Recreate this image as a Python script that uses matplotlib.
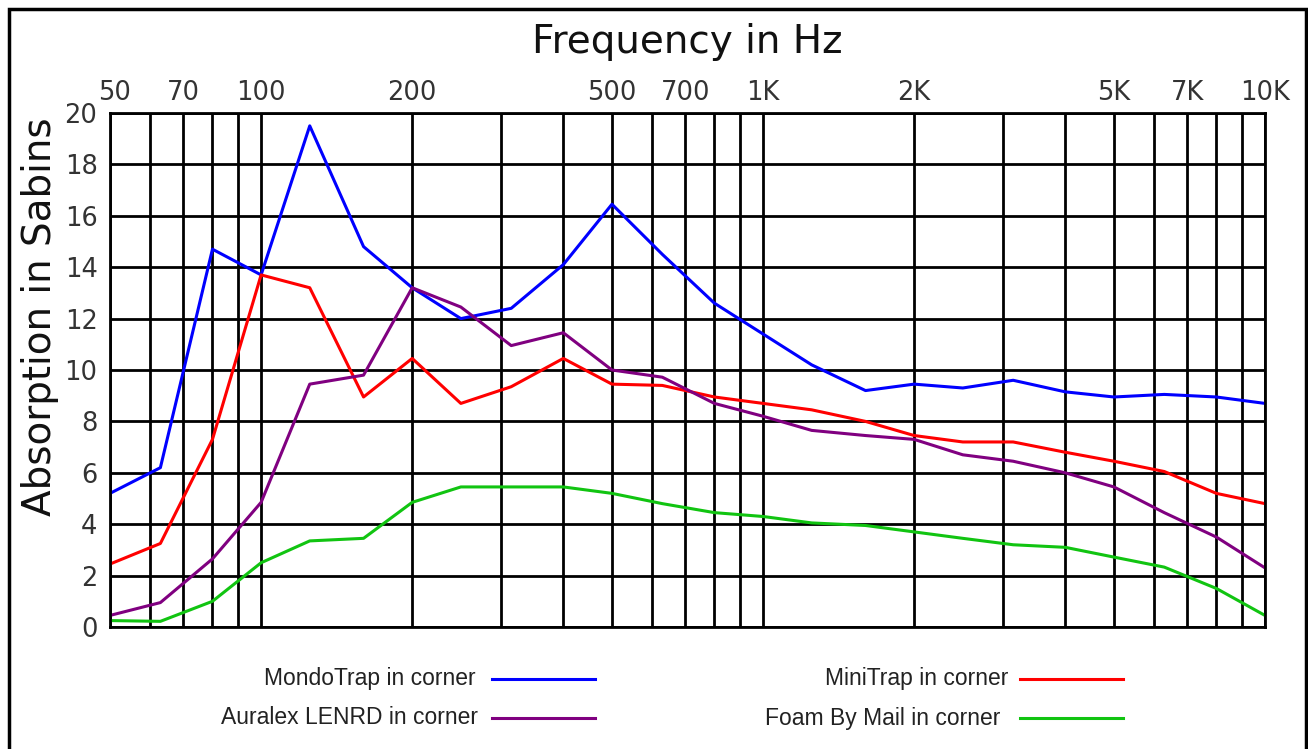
import matplotlib
matplotlib.use("Agg")
import matplotlib.pyplot as plt
from matplotlib.lines import Line2D
from matplotlib.ticker import FixedLocator, NullFormatter
from matplotlib.transforms import ScaledTranslation

# 1/3 octave band centres
freqs = [50, 63, 80, 100, 125, 160, 200, 250, 315, 400, 500, 630,
         800, 1000, 1250, 1600, 2000, 2500, 3150, 4000, 5000, 6300, 8000, 10000]

mondotrap = [5.2, 6.2, 14.7, 13.7, 19.5, 14.8, 13.2, 12.0, 12.4, 14.1, 16.45, 14.5,
             12.6, 11.4, 10.2, 9.2, 9.45, 9.3, 9.6, 9.15, 8.95, 9.05, 8.95, 8.7]
minitrap = [2.45, 3.25, 7.3, 13.7, 13.2, 8.95, 10.45, 8.7, 9.35, 10.45, 9.45, 9.4,
            8.95, 8.7, 8.45, 8.0, 7.45, 7.2, 7.2, 6.8, 6.45, 6.05, 5.2, 4.8]
auralex = [0.45, 0.95, 2.65, 4.85, 9.45, 9.8, 13.2, 12.45, 10.95, 11.45, 10.0, 9.72,
           8.7, 8.2, 7.65, 7.45, 7.3, 6.7, 6.45, 6.0, 5.45, 4.45, 3.5, 2.3]
foam = [0.25, 0.22, 1.0, 2.5, 3.35, 3.45, 4.85, 5.45, 5.45, 5.45, 5.2, 4.8,
        4.45, 4.3, 4.05, 3.95, 3.7, 3.45, 3.2, 3.1, 2.72, 2.33, 1.5, 0.45]

tick_freqs = [50, 70, 100, 200, 500, 700, 1000, 2000, 5000, 7000, 10000]
tick_labels = ["50", "70", "100", "200", "500", "700", "1K", "2K", "5K", "7K", "10K"]
grid_freqs = [m * d for d in (10, 100, 1000) for m in range(1, 10)] + [10000]
y_ticks = list(range(0, 21, 2))

W, H = 1308, 749
fig = plt.figure(figsize=(W / 100, H / 100), dpi=100)
ax = fig.add_axes([110 / W, 1 - 627 / H, (1265 - 110) / W, (627 - 113) / H])

ax.set_xscale("log")
ax.set_xlim(50, 10000)
ax.set_ylim(0, 20)

ax.xaxis.set_major_locator(FixedLocator(tick_freqs))
ax.xaxis.set_minor_locator(FixedLocator([f for f in grid_freqs if 50 <= f <= 10000]))
ax.xaxis.set_minor_formatter(NullFormatter())
ax.set_xticklabels(tick_labels)
ax.set_yticks(y_ticks)

ax.xaxis.tick_top()
ax.tick_params(axis="x", which="both", length=0, pad=5, labelsize=18.5, labelcolor="#333333")
ax.tick_params(axis="y", length=0, pad=9, labelsize=18.5, labelcolor="#333333")

# the "50" label is nudged right of the axis edge
lab50 = ax.get_xticklabels()[0]
lab50.set_transform(lab50.get_transform() + ScaledTranslation(5 / 100, 0, fig.dpi_scale_trans))

ax.grid(True, which="both", axis="x", color="black", linewidth=2.0)
ax.grid(True, which="major", axis="y", color="black", linewidth=2.0)
ax.set_axisbelow(True)
for s in ax.spines.values():
    s.set_color("black")
    s.set_linewidth(2.0)

lw = 2.2
ax.plot(freqs, mondotrap, color="#0000ff", lw=lw)
ax.plot(freqs, minitrap, color="#ff0000", lw=lw)
ax.plot(freqs, auralex, color="#800080", lw=lw)
ax.plot(freqs, foam, color="#11c411", lw=lw)

fig.text(687 / W, 1 - 53 / H, "Frequency in Hz", ha="center", va="baseline",
         fontsize=28, color="#111111")
fig.text(40 / W, 1 - 317 / H, "Absorption in Sabins", ha="center", va="center",
         rotation=90, fontsize=28, color="#111111")

# legend, drawn by hand: label right-aligned, line sample to its right
legend_rows = [
    ("MondoTrap in corner", "#0000ff", 476, 492, 595, 679),
    ("Auralex LENRD in corner", "#800080", 478, 492, 595, 718),
    ("MiniTrap in corner", "#ff0000", 1008, 1020, 1123, 679),
    ("Foam By Mail in corner", "#11c411", 1000, 1020, 1123, 718),
]
for label, col, xt, x0, x1, y in legend_rows:
    fig.text(xt / W, 1 - y / H, label, ha="right", va="center",
             family="Liberation Sans", fontsize=16.5, color="#222222")
    fig.add_artist(Line2D([x0 / W, x1 / W], [1 - y / H, 1 - y / H],
                          color=col, lw=lw, transform=fig.transFigure))

# black frame round the picture (open at the bottom)
fig.add_artist(Line2D([8.5 / W, 8.5 / W, 1305.5 / W, 1305.5 / W],
                      [0, 1 - 8.5 / H, 1 - 8.5 / H, 0],
                      color="black", lw=2.5, transform=fig.transFigure,
                      solid_joinstyle="miter"))

fig.savefig("out.png", dpi=100)
